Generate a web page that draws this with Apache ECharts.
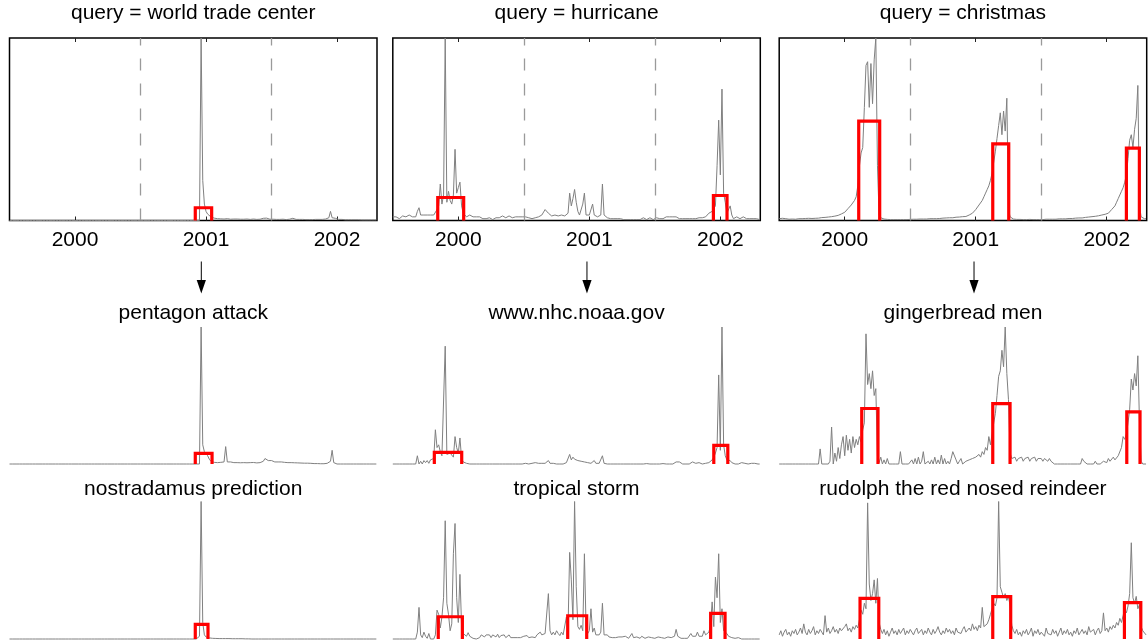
<!DOCTYPE html>
<html>
<head>
<meta charset="utf-8">
<script src="https://cdn.jsdelivr.net/npm/echarts@6/dist/echarts.min.js"></script>
<style>
  html, body { margin: 0; padding: 0; background: #fff; }
  #chart { width: 1148px; height: 642px; }
</style>
</head>
<body>
<div id="chart"></div>
<script>
// Query volume sampled every STEP years starting at X_START; each panel is scaled so 100 = its own peak.
const X_START = 1999.5;
const STEP = 0.0125;
const X_END = 2002.305;
const yearTicks = [2000, 2001, 2002];
const yearBounds = [2000.5, 2001.5];
const arrowYears = [2000.964, 2000.982, 2000.987];

const wtc = [
  0,0,0,0,0,0,0,0,0,0,0,0,0,0,0,0,0,0,0,0,0,0,0,0,0,
  0,0,0,0,0,0,0,0,0,0,0,0,0,0,0,0,0,0,0,0,0,0,0,0,0,
  0,0,0,0,0,0,0,0,0,0,0,0,0,0,0,0,0,0,0,0,0,0,0,0,0,
  0,0,0,0,0,0,0,0,0,0,0,0,0,0,0,0,0,0,0,0,0,0,0,0,0,
  0,0,0,0,0,0,0,0,0,0,0,0,0,0,0,0,0,100,22,9,5,3.5,2.5,2,1.5,
  1.3,1.2,1,1.1,0.9,1,0.8,0.9,1,0.8,0.7,0.9,0.8,0.7,0.8,0.9,0.7,0.8,0.7,0.6,0.8,0.7,0.6,0.7,0.8,
  0.7,0.6,0.8,0.7,0.9,1.2,2,1.3,0.8,0.7,0.6,0.7,0.8,0.6,0.7,0.6,0.5,0.7,0.6,0.5,0.6,0.7,0.8,1.2,0.7,
  0.6,0.5,0.6,0.5,0.6,0.7,0.5,0.6,0.5,0.6,0.5,0.7,0.6,0.5,0.6,0.5,0.6,0.7,0.8,1,1.5,5,1.5,0.9,1.2,
  0.8,0.6,0.5,0.6,0.5,0.4,0.5,0.4,0.5,0.4,0.5,0.4,0.3,0.4,0.5,0.3,0.4,0.3,0.4,0.3,0.5,0.3,0.4,0.3,0.3
];
const hurricane = [
  2,1.5,2,3,1,2,2.5,3,2,1.5,3,2,2,3,2,5,7,3,2,3,2,3,2,3,2,
  3,4,6,8,20,9,14,100,10,16,11,9,14,39,15,18,21,8,4,3,2,2,3,2,2,
  3,2,1,2,2,1,2,1,1,1.5,1,0.5,1,1.5,2,1.5,2,2.5,2,1.5,2,2.5,2,1.5,2.5,
  2,1.5,2,2.5,2,1.5,2,2.5,1.5,2,1,2,1.5,2.5,2,2.5,3,4,6,5,4,3,2.5,2,3,
  2,2.5,2,3,2,2.5,3,4,15,8,12,17,10,5,3,4,9,15,3,2,3,4,9,3,2,
  2,2,3,20,3,2,1.5,2,1,1.5,1,0.5,1,0.5,1,0.5,0.5,1,0.5,1,0.5,1,0.5,1,0.5,
  1,0.5,1,1.5,1,0.5,1,1.5,1,0.5,1,1.5,1,1,1.5,1,1.5,2,1.5,2,2.5,2,3,2,1.5,
  1,1.5,1,0.5,1,1.5,1,0.5,1,1.5,1,1,1.5,1,1.5,2,2,3,4,3,5,4,8,30,55,
  25,72,15,10,4,3,8,3,1,1,2,1,1,1,2,1,1,0.5,1,1,1,0.5,1,1,0.5
];
const christmas = [
  1,0.7,1.2,0.8,1,1.3,0.7,1,0.8,1.1,0.7,0.9,1,0.8,1,0.9,1.1,1,1.2,1,1.1,1.3,1.2,1.4,1.3,
  1.5,1.6,1.5,1.7,1.8,1.9,2,2.1,2.3,2.4,2.6,2.8,3.2,3.6,4,4.5,5.5,6.5,7.5,8.5,9.5,11,13,19,30,
  37,40,62,85,87,62,86,64,88,100,30,3,1.5,1,0.8,0.7,0.6,0.7,0.5,0.6,0.5,0.6,0.5,0.6,0.5,
  0.6,0.5,0.6,0.5,0.7,0.6,0.5,0.7,0.6,0.7,0.6,0.8,0.7,0.8,0.9,0.8,0.9,1,0.9,1,1.1,1,1.2,1.1,1.2,
  1.3,1.2,1.4,1.3,1.5,1.6,1.5,1.7,1.8,1.7,1.9,2,2.1,2.3,2.2,2.5,3,3.5,4,5,6,7,8.5,9.5,11,
  13,15,17,19,22,26,32,38,45,52,59,47,60,49,67,6,2,1,0.8,0.7,0.6,0.5,0.6,0.5,0.5,
  0.6,0.5,0.5,0.6,0.5,0.5,0.6,0.5,0.6,0.5,0.6,0.5,0.6,0.7,0.6,0.7,0.6,0.7,0.8,0.7,0.8,0.9,0.8,0.9,1,
  0.9,1,1.1,1,1.1,1.2,1.3,1.2,1.4,1.5,1.4,1.6,1.7,1.8,1.9,2,2.1,2.2,2.3,2.5,2.6,2.8,3,3.2,3.4,
  3.5,4,5,6,7,8,10,12,14,16,18,21,25,34,44,47,40,50,56,74,8,2,1.5,1,1
];
const pentagon = [
  0,0,0,0,0,0,0,0,0,0,0,0,0,0,0,0,0,0,0,0,0,0,0,0,0,
  0,0,0,0,0,0,0,0,0,0,0,0,0,0,0,0,0,0,0,0,0,0,0,0,0,
  0,0,0,0,0,0,0,0,0,0,0,0,0,0,0,0,0,0,0,0,0,0,0,0,0,
  0,0,0,0,0,0,0,0,0,0,0,0,0,0,0,0,0,0,0,0,0,0,0,0,0,
  0,0,0,0,0,0,0,0,0,0,0,0,0,0,0,0,0,100,14,9,8,6,3.5,2,1.5,
  1.2,1.5,1,1.5,1.2,2,1.5,12.7,1.5,1,1.5,1.2,1,1.4,1,1.3,0.9,1.2,1,1.3,0.9,1.1,1,0.8,1.1,
  1,0.8,1.2,1,1.5,2,4,3,2.5,2,2.5,2,1.5,2,1.5,1.2,1.5,1,1.2,0.9,1,0.8,1,0.7,0.9,
  0.7,0.8,0.6,0.7,0.5,0.6,0.5,0.6,0.4,0.5,0.4,0.3,0.4,0.3,0.3,0.2,0.3,0.2,0.3,0.5,1,2,10,1,0,
  0,0,0,0,0,0,0,0,0,0,0,0,0,0,0,0,0,0,0,0,0,0,0,0,0
];
const nostradamus = [
  0,0,0,0,0,0,0,0,0,0,0,0,0,0,0,0,0,0,0,0,0,0,0,0,0,
  0,0,0,0,0,0,0,0,0,0,0,0,0,0,0,0,0,0,0,0,0,0,0,0,0,
  0,0,0,0,0,0,0,0,0,0,0,0,0,0,0,0,0,0,0,0,0,0,0,0,0,
  0,0,0,0,0,0,0,0,0,0,0,0,0,0,0,0,0,0,0,0,0,0,0,0,0,
  0,0,0,0,0,0,0,0,0,0,0,0,0,0,0,0,2,100,12,3,1.5,1,0.8,0.6,0.5,
  0.5,0.4,0.5,0.3,0.4,0.3,0.4,0.3,0.5,0.3,0.3,0.2,0.3,0.2,0.3,0.2,0.4,0.2,0.2,0.1,0.2,0.1,0.1,0,0,
  0,0,0,0,0,0,0,0,0,0,0,0,0,0,0,0,0,0,0,0,0,0,0,0,0,
  0,0,0,0,0,0,0,0,0,0,0,0,0,0,0,0,0,0,0,0,0,0,0,0,0,
  0,0,0,0,0,0,0,0,0,0,0,0,0,0,0,0,0,0,0,0,0,0,0,0,0
];
const nhc = [
  0,0,0,0,0,0,0,0,0,0,0,0,0,0,0,6,0,2,0,2.5,1,2.5,0.5,3,2,
  4,25,12,14,9,6,5,86,7,6,8,9,5,20,12,8,19,4,1.5,2,0.5,1,0,0,0,
  0,0,0,0,0,0,0,0,0,0,0,0,0,0,0,0,0,0,0,0,0,0,0,0,0,
  0,0.3,0,0.5,0,0,0.5,0,0,0,0.5,0,1,0,0.5,0,0.5,0.5,0.5,1,2.5,0.5,0,0.5,0,
  0,0.3,0,0.5,0,0.5,1,2,7,3,5,3.5,4,2.5,3,2,2.5,1.5,2,1,1.5,0.5,1,2.5,0.5,
  0,0.5,1,6,0.5,0,0,0,0,0.3,0,0,0,0,0,0,0,0.3,0,0,0,0,0,0,0,
  0,0,0,0,0,0.3,0,0,0,0,0,0,0,0,0,0.3,0,0,0,0,0,0,0.5,1.5,2.2,
  1.5,0.5,0,0,0,0,0,0,1.5,1,0.5,0,1,0.5,0,0,0.5,0,1,1.5,3,5,8,12,65,
  10,100,14,6,3,2,2.5,1,0.5,0,1,0,0.5,1,0,0.5,1,0,1,0.5,0,0.5,0,0,0
];
const tropicalStorm = [
  0,0,0,0,0,0,0,0,0,0,0,0,0,0,0,5,23,3,1,5,2,0.5,4,0,0.5,
  0,3,21,18,8,16,30,86,26,18,6,11,62,84,30,12,47,9,4,5,2,4.6,2,3,0.5,
  0,0,0.5,1,3,2.5,1.5,3,2,3,1,3,2,1.5,3.5,1,2.5,1.5,3,1,2,3,1,2,1,
  1.5,1,2,1,1.5,2,1,2.5,1,2,1.5,2.5,1,3,2,5,3,2,4,3,33,6,3,5,3,
  6,4,2.5,5,3,4,16,8,63,43,14,100,38,9,7,10,6,62,9,4,6,22,5,8,3,
  4,3,5,26,3,2,3,1.5,2.5,1,2,1,2,1.5,0.5,1.5,1,2,1,0.5,1.5,4,1,0.5,1.5,
  1,0.5,2,1,0.5,1,1.5,0.5,1,2,0.5,1,1.5,0.5,1,2,0.5,1,1.5,2,1,1.5,2,7,2,
  1,0.5,1,0.5,1,0.5,1.5,4,2,1,2,5,2,3,2,6,3,4,5,10,27,9,45,30,62,
  12,22,6,5,4,2,1,1,0.5,0.5,1,1,0,0,0,0,0,0,0,0,0,0,0,0,0
];
const gingerbread = [
  0,0,0,0,0,0,0,0,0,0,0,0,0,0,0,0,0,0,0,0,0,0,0,0,0,
  11,0,0,0,0,0,2,27,0,8,2,12,4,14,20,6,21,10,18,8,20,12,18,14,20,
  16,25,30,95,58,66,55,68,50,55,6,1,5,0,3,0,4,0,0,0,0,0,0,0,9,
  0,0,0,0,0,0,3,0,4,0,5,0,2,9,0,0,2,0,3,0,5,0,3,0,6.5,
  0,4,0,2,0,4,9,9,3,0,2,4,0,0,2,1,3,2,4,3,5,4,7,5,9,
  7,12,10,20,14,22,30,37,50,64,68,83,71,100,66,47,8,4,3,5,2,4,3,5,2,
  4,3,5,2,4,3,5,2,4,3,4,2,4,3,2,4,2,3,0,0,0,0,0,0,0,
  0,0,0,0,0,0,0,0,0,0,4,2,3,0,0,0,0,0,2,0,0,0,0,2,3,
  1,4,2,3,5,3,4,6,5,12,20,18,22,30,40,62,54,66,57,79,30,2,0,0,0
];
const rudolph = [
  3,6,2,5,7,3,5,2,6,4,7,3,5,8,4,11,5,3,7,4,6,9,3,6,4,
  7,5,3,17,5,8,4,6,9,5,7,4,8,6,5,9,11,6,8,5,9,7,10,8,14,
  21,18,26,22,99,40,28,33,43,26,44,12,7,4,7,3,6,2,5,8,4,6,3,7,4,
  5,8,3,6,4,7,5,3,6,8,4,5,7,3,6,4,8,5,3,7,4,6,9,5,3,
  6,4,8,5,7,4,6,3,8,5,6,4,7,9,5,6,8,6,11,7,9,6,10,8,23,
  9,8,11,14,18,22,26,24,30,100,38,34,30,33,28,31,24,10,6,4,7,3,5,2,6,
  4,7,3,5,8,2,6,4,7,3,5,6,2,8,4,5,3,7,4,6,2,5,8,3,6,
  4,7,3,5,2,6,4,8,3,5,7,4,6,3,9,5,4,7,3,6,8,4,6,19,6,
  8,5,9,7,10,8,12,10,15,12,17,22,19,24,33,70,30,26,31,22,25,9,6,5,3
];

// Burst intervals: [start year, end year, burst level]
const wtcBursts = [[2000.918, 2001.043, 7]];
const hurricaneBursts = [[1999.843, 2000.041, 12.6], [2001.947, 2002.051, 13.7]];
const christmasBursts = [[2000.107, 2000.267, 54.5], [2001.130, 2001.252, 42], [2002.150, 2002.249, 39.7]];
const pentagonBursts = [[2000.918, 2001.046, 7.8]];
const nostradamusBursts = [[2000.918, 2001.015, 10.7]];
const nhcBursts = [[1999.817, 2000.026, 8.5], [2001.950, 2002.057, 13.6]];
const tropicalBursts = [[1999.847, 2000.031, 16.2], [2000.835, 2000.980, 16.9], [2001.926, 2002.036, 18.6]];
const gingerbreadBursts = [[2000.130, 2000.254, 40.5], [2001.130, 2001.262, 44], [2002.153, 2002.254, 38]];
const rudolphBursts = [[2000.117, 2000.260, 29.6], [2001.130, 2001.267, 30.8], [2002.135, 2002.260, 26.5]];

const panels = [
  { title: 'query = world trade center', values: wtc, bursts: wtcBursts, row: 0, col: 0 },
  { title: 'query = hurricane', values: hurricane, bursts: hurricaneBursts, row: 0, col: 1 },
  { title: 'query = christmas', values: christmas, bursts: christmasBursts, row: 0, col: 2 },
  { title: 'pentagon attack', values: pentagon, bursts: pentagonBursts, row: 1, col: 0 },
  { title: 'www.nhc.noaa.gov', values: nhc, bursts: nhcBursts, row: 1, col: 1 },
  { title: 'gingerbread men', values: gingerbread, bursts: gingerbreadBursts, row: 1, col: 2 },
  { title: 'nostradamus prediction', values: nostradamus, bursts: nostradamusBursts, row: 2, col: 0 },
  { title: 'tropical storm', values: tropicalStorm, bursts: tropicalBursts, row: 2, col: 1 },
  { title: 'rudolph the red nosed reindeer', values: rudolph, bursts: rudolphBursts, row: 2, col: 2 }
];

// layout
const FONT = '"Liberation Sans", Arial, Helvetica, sans-serif';
const colLeft = [9.5, 392.8, 779.2];
const colWidth = 367.5;
const rowTop = [38, 327, 501.5];
const rowHeight = [182.5, 137, 137.5];
const titleTop = [3, 303, 479];

const grids = [], xAxes = [], yAxes = [], series = [], titles = [];

panels.forEach((p, k) => {
  const boxed = p.row === 0;
  grids.push({
    left: colLeft[p.col], top: rowTop[p.row], width: colWidth, height: rowHeight[p.row],
    show: boxed, borderColor: '#000', borderWidth: 1.5, backgroundColor: 'transparent'
  });
  const baseX = {
    type: 'value', gridIndex: k, min: X_START, max: X_END,
    axisLine: { show: false }, splitLine: { show: false },
    axisTick: { show: boxed, inside: true, length: 4, customValues: yearTicks, lineStyle: { color: '#222', width: 1 } },
    axisLabel: { show: false }
  };
  xAxes.push(Object.assign({}, baseX, {
    position: 'bottom',
    axisLabel: {
      show: boxed, customValues: yearTicks, margin: 9, fontSize: 21, lineHeight: 21,
      color: '#000', fontFamily: FONT, formatter: v => String(Math.round(v))
    }
  }));
  const topAxisIndex = xAxes.length;
  xAxes.push(Object.assign({}, baseX, { position: 'top', show: boxed }));
  yAxes.push({ type: 'value', gridIndex: k, min: 0, max: 100, show: false });

  const xIdx = topAxisIndex - 1;
  series.push({
    type: 'line', xAxisIndex: xIdx, yAxisIndex: k, clip: false,
    data: p.values.map((v, i) => [X_START + i * STEP, v]),
    showSymbol: false, silent: true,
    lineStyle: { color: '#808080', width: 1 },
    markLine: boxed ? {
      silent: true, symbol: 'none', animation: false, label: { show: false },
      lineStyle: { color: '#9a9a9a', width: 1.3, type: [12, 13] },
      data: yearBounds.map(b => ({ xAxis: b }))
    } : undefined
  });
  p.bursts.forEach(([a, b, h]) => {
    series.push({
      type: 'line', xAxisIndex: xIdx, yAxisIndex: k, clip: false,
      data: [[a, 0], [a, h], [b, h], [b, 0]],
      showSymbol: false, silent: true, z: 5,
      lineStyle: { color: '#ff0000', width: 3.2, join: 'miter', cap: 'butt' }
    });
  });
  titles.push({
    text: p.title, left: colLeft[p.col] + colWidth / 2, top: titleTop[p.row],
    textAlign: 'center', padding: 0,
    textStyle: { fontSize: 21, lineHeight: 21, fontWeight: 'normal', color: '#000', fontFamily: FONT }
  });
});

const chart = echarts.init(document.getElementById('chart'), null, { renderer: 'canvas' });
chart.setOption({
  animation: false,
  backgroundColor: '#fff',
  title: titles,
  grid: grids,
  xAxis: xAxes,
  yAxis: yAxes,
  series: series
});

// arrows linking each query to the related queries below it
const arrows = arrowYears.map((yr, c) => {
  const x = chart.convertToPixel({ xAxisIndex: c * 2 }, yr);
  return {
    type: 'group', silent: true,
    children: [
      { type: 'line', shape: { x1: x, y1: 261.5, x2: x, y2: 282 }, style: { stroke: '#000', lineWidth: 1 } },
      { type: 'polygon', shape: { points: [[x - 4.6, 280], [x + 4.6, 280], [x, 293.5]] }, style: { fill: '#000' } }
    ]
  };
});
chart.setOption({ graphic: arrows });
</script>
</body>
</html>
